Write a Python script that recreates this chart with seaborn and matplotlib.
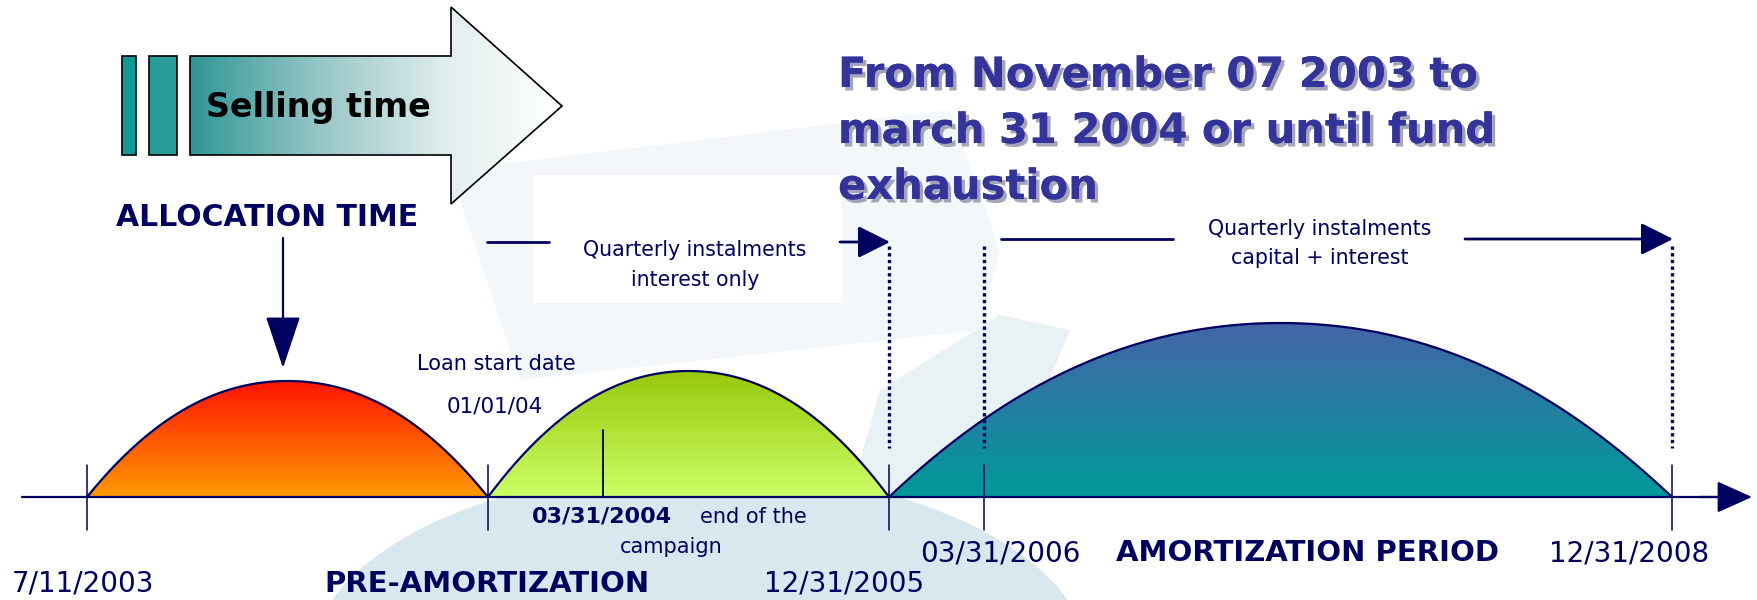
import numpy as np
import pandas as pd
import matplotlib
matplotlib.use("Agg")
import matplotlib.pyplot as plt
import matplotlib.colors as mcolors
import matplotlib.patheffects as pe
from matplotlib.patches import Polygon, Rectangle, Ellipse
import seaborn as sns

# --- diagram content -------------------------------------------------------
phase_names = ["allocation", "pre-amortization", "amortization"]
phase_start = [87, 488, 889]          # position of each phase on the time axis
phase_end = [488, 889, 1672]
phase_height = [116, 126, 174]
phase_top = ["#ff1400", "#97c80c", "#4565a9"]
phase_bottom = ["#ff9a00", "#ccff66", "#009a99"]

tick_x = [87, 488, 889, 984, 1672]
dotted_x = [889, 984, 1672]
campaign_end_x = 603

bottom_labels = ["7/11/2003", "PRE-AMORTIZATION", "12/31/2005",
                 "03/31/2006", "AMORTIZATION PERIOD", "12/31/2008"]
bottom_bold = [False, True, False, False, True, False]
bottom_x = [83, 487, 844, 1000, 1307, 1629]
bottom_y = [584, 584, 584, 553, 553, 553]

title_lines = ["From November 07 2003 to", "march 31 2004 or until fund", "exhaustion"]

NAVY = "#00005e"
BASE_Y = 497

sns.set_theme(style="white")
plt.rcParams["font.family"] = ["DejaVu Sans"]

fig = plt.figure(figsize=(17.57, 6.0), dpi=100)
ax = fig.add_axes([0, 0, 1, 1])


def grad_image(stops, n=256):
    cols = [np.array(mcolors.to_rgb(c)) for _, c in stops]
    pos = [p for p, _ in stops]
    t = np.linspace(0, 1, n)
    return np.stack([np.interp(t, pos, [c[i] for c in cols]) for i in range(3)], axis=-1)


def hump_outline(x0, x1, h, n=200):
    # each flank is a cubic Bezier: straight-ish rise, then a rounded top
    t = np.linspace(0, 1, n)
    b1, b2, b3 = 3 * (1 - t) ** 2 * t, 3 * (1 - t) * t ** 2, t ** 3
    s = b1 * 0.30 + b2 * 0.62 + b3
    f = b1 * 0.64 + b2 * 1.0 + b3
    half = (x1 - x0) / 2
    xs = np.concatenate([x0 + s * half, (x1 - s * half)[::-1][1:]])
    fs = np.concatenate([f, f[::-1][1:]])
    return xs, BASE_Y - h * fs


# faint watermark shapes in the background
ax.add_patch(Ellipse((700, 665), 780, 390, facecolor="#d9e8ee", edgecolor="none", zorder=0))
ax.add_patch(Polygon([[850, 497], [1000, 497], [1070, 330], [1000, 315], [880, 390]],
                     closed=True, facecolor="#e8f1f4", edgecolor="none", zorder=0))
ax.add_patch(Polygon([[450, 170], [950, 110], [1000, 250], [980, 330], [520, 380]], closed=True,
                     facecolor="#f4f7f9", edgecolor="none", zorder=0))
ax.add_patch(Rectangle((533, 175), 309, 128, facecolor="white", edgecolor="none", zorder=0))

# humps with vertical gradients
rows = []
for name, x0, x1, h, ctop, cbot in zip(phase_names, phase_start, phase_end,
                                       phase_height, phase_top, phase_bottom):
    xs, ys = hump_outline(x0, x1, h)
    poly = Polygon(np.column_stack([xs, ys]), closed=True, facecolor="none",
                   edgecolor="none", transform=ax.transData)
    ax.add_patch(poly)
    img = grad_image([(0, ctop), (1, cbot)])[:, None, :]
    im = ax.imshow(img, extent=(x0, x1, BASE_Y, BASE_Y - h), origin="upper",
                   aspect="auto", interpolation="bilinear", zorder=2)
    im.set_clip_path(poly)
    rows.append(pd.DataFrame({"x": xs, "y": ys, "phase": name}))

outline = pd.concat(rows, ignore_index=True)
sns.lineplot(data=outline, x="x", y="y", units="phase", estimator=None,
             color=NAVY, lw=1.6, ax=ax, zorder=3, sort=False)

# time axis with arrow
ax.plot([22, 1735], [BASE_Y, BASE_Y], color=NAVY, lw=1.6, zorder=4)
ax.annotate("", xy=(1752, BASE_Y), xytext=(1700, BASE_Y),
            arrowprops=dict(arrowstyle="-|>,head_length=1.0,head_width=0.45",
                            color=NAVY, lw=1.6, mutation_scale=22, shrinkA=0, shrinkB=0),
            zorder=4)
for x in tick_x:
    ax.plot([x, x], [465, 530], color=NAVY, lw=1.1, zorder=4)
ax.plot([campaign_end_x, campaign_end_x], [430, BASE_Y], color=NAVY, lw=1.3, zorder=4)
for x in dotted_x:
    ax.plot([x, x], [246, 448], color=NAVY, lw=2.4, ls=(0, (1.0, 1.0)), zorder=4)

# instalment arrows
arrow_kw = dict(arrowstyle="-|>,head_length=0.9,head_width=0.45", color=NAVY, lw=2,
                mutation_scale=22, shrinkA=0, shrinkB=0)
ax.plot([487, 549], [242, 242], color=NAVY, lw=2)
ax.annotate("", xy=(890, 242), xytext=(840, 242), arrowprops=arrow_kw)
ax.plot([1001, 1173], [239, 239], color=NAVY, lw=2)
ax.annotate("", xy=(1673, 239), xytext=(1465, 239), arrowprops=arrow_kw)

small = dict(color=NAVY, fontsize=14.8, ha="center", va="center")
ax.text(695, 250, "Quarterly instalments", **small)
ax.text(695, 280, "interest only", **small)
ax.text(1320, 229, "Quarterly instalments", **small)
ax.text(1320, 258, "capital + interest", **small)

# allocation arrow
ax.annotate("", xy=(283, 368), xytext=(283, 238),
            arrowprops=dict(arrowstyle="-|>,head_length=1.5,head_width=0.5", color=NAVY,
                            lw=1.6, mutation_scale=22, shrinkA=0, shrinkB=0))
ax.text(267, 217, "ALLOCATION TIME", color=NAVY, fontsize=21.5, fontweight="bold",
        ha="center", va="center")

# loan start / campaign end labels
ax.text(496, 364, "Loan start date", color=NAVY, fontsize=15, ha="center", va="center")
ax.text(495, 407, "01/01/04", color=NAVY, fontsize=15.5, ha="center", va="center")
ax.text(532, 517, "03/31/2004", color=NAVY, fontsize=16, fontweight="bold",
        ha="left", va="center")
ax.text(700, 517, "end of the", color=NAVY, fontsize=15, ha="left", va="center")
ax.text(671, 547, "campaign", color=NAVY, fontsize=15, ha="center", va="center")

for lab, bold, x, y in zip(bottom_labels, bottom_bold, bottom_x, bottom_y):
    ax.text(x, y, lab, color=NAVY, fontsize=21 if bold else 20,
            fontweight="bold" if bold else "normal", ha="center", va="center")

# selling time block arrow with horizontal gradient
sell_pts = [[190, 56], [451, 56], [451, 7], [562, 106], [451, 204], [451, 155], [190, 155]]
sell = Polygon(sell_pts, closed=True, facecolor="none", edgecolor="none")
ax.add_patch(sell)
himg = grad_image([(0, "#2f9795"), (0.35, "#98c6c6"), (0.7, "#e3eeee"), (1, "#ffffff")])[None, :, :]
im = ax.imshow(himg, extent=(190, 562, 204, 7), origin="upper", aspect="auto",
               interpolation="bilinear", zorder=2)
im.set_clip_path(sell)
ax.add_patch(Polygon(sell_pts, closed=True, facecolor="none", edgecolor="black", lw=1.2, zorder=3))
ax.add_patch(Rectangle((122, 56), 14, 99, facecolor="#0e9995", edgecolor="black", lw=1.2, zorder=3))
ax.add_patch(Rectangle((149, 56), 28, 99, facecolor="#2a9d9a", edgecolor="black", lw=1.2, zorder=3))
ax.text(206, 107, "Selling time", color="black", fontsize=24, fontweight="bold",
        ha="left", va="center", zorder=4)

# headline
shadow = [pe.withSimplePatchShadow(offset=(2.5, -2.5), shadow_rgbFace="#9a9ab4", alpha=0.9),
          pe.Normal()]
for i, line in enumerate(title_lines):
    ax.text(838, 87 + 56 * i, line, color="#333399", fontsize=30, fontweight="bold",
            ha="left", va="baseline", path_effects=shadow)

ax.set_xlim(0, 1757)
ax.set_ylim(600, 0)
ax.axis("off")

fig.savefig("out.png", dpi=100, facecolor="white")
